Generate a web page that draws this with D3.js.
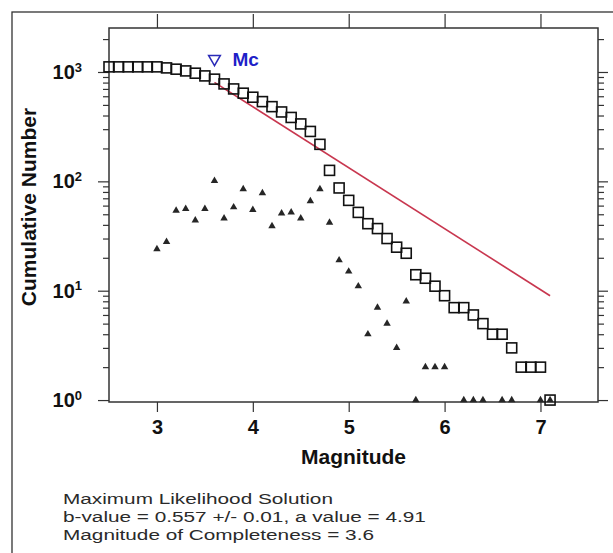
<!DOCTYPE html>
<html>
<head>
<meta charset="utf-8">
<script src="https://cdn.jsdelivr.net/npm/d3@7"></script>
<style>
  body { margin: 0; background: #fff; }
  svg { display: block; font-family: "Liberation Sans", Arial, sans-serif; }
</style>
</head>
<body>
<div id="chart"></div>
<script>
// magnitude bins, cumulative counts (squares) and per-bin counts (triangles)
const magBins = [2.5, 2.6, 2.7, 2.8, 2.9, 3.0, 3.1, 3.2, 3.3, 3.4, 3.5, 3.6, 3.7, 3.8, 3.9,
  4.0, 4.1, 4.2, 4.3, 4.4, 4.5, 4.6, 4.7, 4.8, 4.9, 5.0, 5.1, 5.2, 5.3, 5.4, 5.5, 5.6,
  5.7, 5.8, 5.9, 6.0, 6.1, 6.2, 6.3, 6.4, 6.5, 6.6, 6.7, 6.8, 6.9, 7.0, 7.1];
const cumulative = [1114, 1114, 1114, 1114, 1114, 1114, 1090, 1061, 1023, 975, 921, 860, 778,
  700, 640, 588, 536, 482, 431, 384, 335, 286, 218, 126, 87, 67, 52, 41, 37, 30, 25, 22,
  14, 13, 11, 9, 7, 7, 6, 5, 4, 4, 3, 2, 2, 2, 1];

const countMags = [3.0, 3.1, 3.2, 3.3, 3.4, 3.5, 3.6, 3.7, 3.8, 3.9, 4.0, 4.1, 4.2, 4.3, 4.4,
  4.5, 4.6, 4.7, 4.8, 4.9, 5.0, 5.1, 5.2, 5.3, 5.4, 5.5, 5.6, 5.7, 5.8, 5.9, 6.0, 6.2, 6.3,
  6.4, 6.6, 6.7, 7.0, 7.1];
const counts = [24, 28, 54, 56, 44, 56, 101, 46, 58, 85, 55, 78, 39, 51, 52, 46, 66, 85, 42,
  19, 15, 11, 4, 7, 5, 3, 8, 1, 2, 2, 2, 1, 1, 1, 1, 1, 1, 1];

// maximum likelihood fit line (from Mc to the largest event)
const fitMags = [3.6, 7.1];
const fitCounts = [803, 9];
const mc = 3.6;

const xTicks = [3, 4, 5, 6, 7];
const yMajor = [1, 10, 100, 1000];
const infoLines = [
  "Maximum Likelihood Solution",
  "b-value = 0.557 +/- 0.01,  a value = 4.91",
  "Magnitude of Completeness = 3.6"
];

const W = 613, H = 553;
const margin = { top: 28, right: 15, bottom: 151, left: 109 };
const width = W - margin.left - margin.right;
const height = H - margin.top - margin.bottom;

const svg = d3.select("#chart").append("svg")
  .attr("width", W)
  .attr("height", H);

// outer figure border (cut by the window on the right and bottom)
svg.append("rect")
  .attr("x", 12).attr("y", 12)
  .attr("width", W).attr("height", H)
  .attr("fill", "none")
  .attr("stroke", "#333")
  .attr("stroke-width", 1.3);

const g = svg.append("g")
  .attr("transform", `translate(${margin.left},${margin.top})`);

const x = d3.scaleLinear([2.5, 7.6], [0, width]);
const y = d3.scaleLog([0.96, 2525], [height, 0]);

const yMinor = [];
for (const d of yMajor) for (let k = 2; k < 10; k++) if (d * k < y.domain()[1]) yMinor.push(d * k);

const styleAxis = sel => {
  sel.select(".domain").remove();
  sel.selectAll(".tick line").attr("stroke", "#333").attr("stroke-width", 1.2);
};

// bottom axis with labels
g.append("g")
  .attr("transform", `translate(0,${height})`)
  .call(d3.axisBottom(x).tickValues(xTicks).tickSize(10).tickPadding(8).tickFormat(d3.format("d")))
  .call(styleAxis)
  .call(a => a.selectAll("text")
    .attr("fill", "#111")
    .attr("font-size", 20)
    .attr("font-weight", "bold")
    .attr("font-family", "Liberation Sans, Arial, sans-serif"));

// top ticks (outward)
g.append("g")
  .call(d3.axisTop(x).tickValues(xTicks).tickSize(14).tickFormat(""))
  .call(styleAxis);

// left axis: minor and major ticks
g.append("g")
  .call(d3.axisLeft(y).tickValues(yMinor).tickSize(6).tickFormat(""))
  .call(styleAxis);

const left = g.append("g")
  .call(d3.axisLeft(y).tickValues(yMajor).tickSize(11).tickPadding(8).tickFormat(""))
  .call(styleAxis);

left.selectAll(".tick text")
  .attr("fill", "#111")
  .attr("font-size", 20)
  .attr("font-weight", "bold")
  .attr("font-family", "Liberation Sans, Arial, sans-serif")
  .attr("dx", "-0.4em")
  .each(function (d) {
    const t = d3.select(this);
    t.append("tspan").text("10");
    t.append("tspan").attr("dy", "-0.55em").attr("font-size", 13).text(Math.round(Math.log10(d)));
  });

// right axis mirrors the left ticks
g.append("g")
  .attr("transform", `translate(${width},0)`)
  .call(d3.axisRight(y).tickValues(yMinor).tickSize(6).tickFormat(""))
  .call(styleAxis);
g.append("g")
  .attr("transform", `translate(${width},0)`)
  .call(d3.axisRight(y).tickValues(yMajor).tickSize(10).tickFormat(""))
  .call(styleAxis);

// plot frame
g.append("rect")
  .attr("width", width)
  .attr("height", height)
  .attr("fill", "none")
  .attr("stroke", "#333")
  .attr("stroke-width", 1.5);

// fit line
const fit = fitMags.map((m, i) => ({ m, n: fitCounts[i] }));
g.append("path")
  .datum(fit)
  .attr("fill", "none")
  .attr("stroke", "#c8374f")
  .attr("stroke-width", 1.6)
  .attr("d", d3.line().x(d => x(d.m)).y(d => y(d.n)));

// per-bin counts (filled triangles)
const tri = d3.symbol(d3.symbolTriangle).size(24);
g.append("g")
  .selectAll("path")
  .data(countMags.map((m, i) => ({ m, n: counts[i] })))
  .join("path")
  .attr("transform", d => `translate(${x(d.m)},${y(d.n)})`)
  .attr("d", tri)
  .attr("fill", "#262626");

// cumulative counts (open squares)
const sq = 10;
g.append("g")
  .selectAll("rect")
  .data(magBins.map((m, i) => ({ m, n: cumulative[i] })))
  .join("rect")
  .attr("x", d => x(d.m) - sq / 2)
  .attr("y", d => y(d.n) - sq / 2)
  .attr("width", sq)
  .attr("height", sq)
  .attr("fill", "none")
  .attr("stroke", "#111")
  .attr("stroke-width", 1.6);

// Mc marker
const mcY = y(d3.max(cumulative)) - 8;
g.append("path")
  .attr("transform", `translate(${x(mc)},${mcY}) rotate(180)`)
  .attr("d", d3.symbol(d3.symbolTriangle).size(60))
  .attr("fill", "none")
  .attr("stroke", "#2b2bb8")
  .attr("stroke-width", 1.5);
g.append("text")
  .attr("x", x(mc) + 18)
  .attr("y", mcY)
  .attr("dy", "0.35em")
  .attr("fill", "#1f1fc8")
  .attr("font-size", 19)
  .attr("font-weight", "bold")
  .text("Mc");

// axis titles
g.append("text")
  .attr("x", width / 2)
  .attr("y", height + 62)
  .attr("text-anchor", "middle")
  .attr("font-size", 21)
  .attr("font-weight", "bold")
  .attr("fill", "#111")
  .text("Magnitude");

g.append("text")
  .attr("transform", `translate(${-73},${height / 2 - 8}) rotate(-90)`)
  .attr("text-anchor", "middle")
  .attr("font-size", 21)
  .attr("font-weight", "bold")
  .attr("fill", "#111")
  .text("Cumulative Number");

// fit summary (glyphs are wide and squat in the original)
svg.append("g")
  .attr("transform", "translate(63,0) scale(1.34,1)")
  .selectAll("text")
  .data(infoLines)
  .join("text")
  .attr("x", 0)
  .attr("y", (d, i) => 504 + i * 18)
  .attr("font-size", 15.5)
  .attr("fill", "#2a2a2a")
  .text(d => d);
</script>
</body>
</html>
